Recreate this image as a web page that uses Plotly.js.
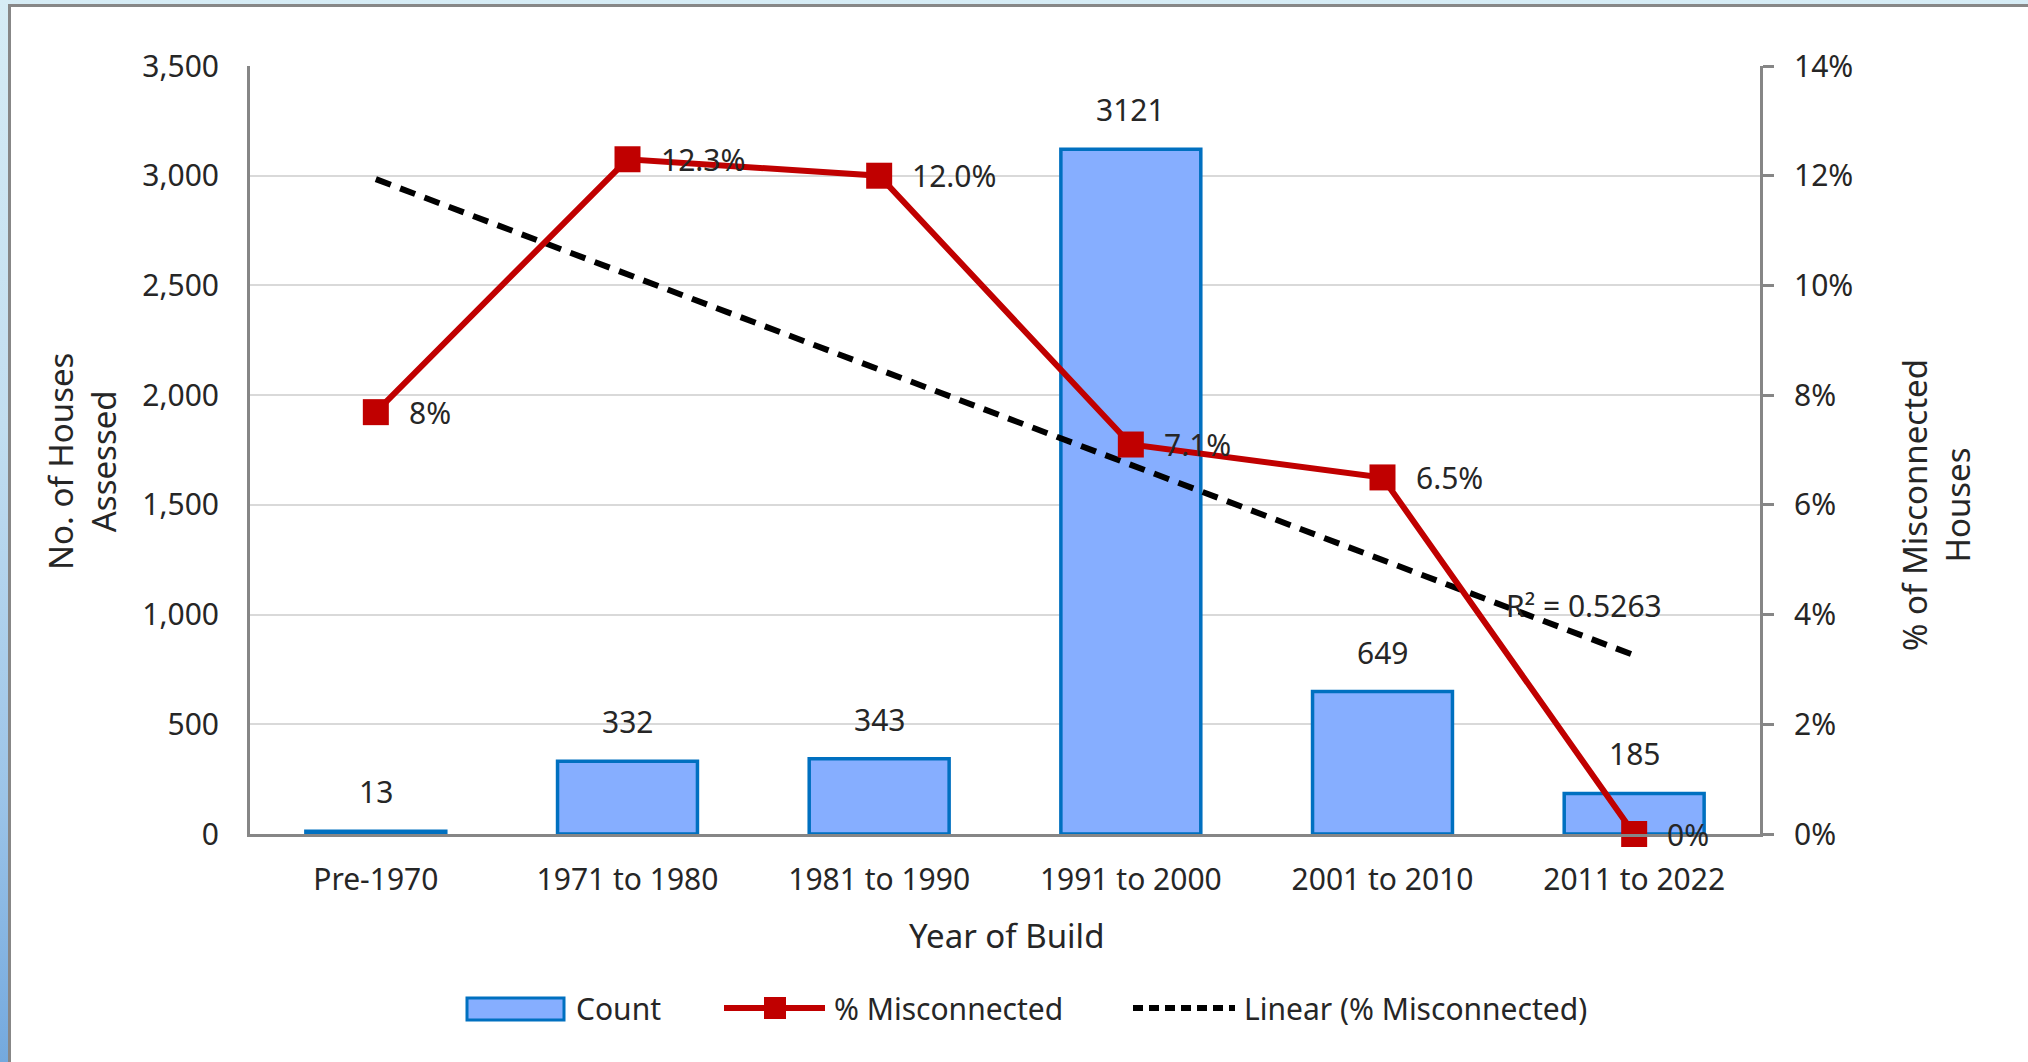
<!DOCTYPE html>
<html>
<head>
<meta charset="utf-8">
<script src="https://cdn.plot.ly/plotly-3.0.1.min.js"></script>
<style>
  html, body { margin: 0; padding: 0; width: 2028px; height: 1062px; overflow: hidden;
    background: linear-gradient(to bottom, #d6ecf5 0%, #c2def0 40%, #9cc4e8 75%, #74a9de 100%); }
  #frame { position: absolute; left: 8px; top: 4px; width: 2020px; height: 1058px;
    background: #ffffff; border-left: 3px solid #878787; border-top: 3px solid #878787; box-sizing: border-box; }
  #chart { position: absolute; left: 0; top: 0; width: 2028px; height: 1062px; }
</style>
</head>
<body>
<div id="frame"></div>
<div id="chart"></div>
<script>
// ---- data ----
const categories = ["Pre-1970", "1971 to 1980", "1981 to 1990", "1991 to 2000", "2001 to 2010", "2011 to 2022"];
const counts = [13, 332, 343, 3121, 649, 185];
const pctMisconnected = [0.0769, 0.123, 0.120, 0.071, 0.065, 0.0];
const pctLabels = ["8%", "12.3%", "12.0%", "7.1%", "6.5%", "0%"];
const countLabels = ["13", "332", "343", "3121", "649", "185"];
const r2Label = "R\u00b2 = 0.5263";

// ---- linear trendline (least squares on category index) ----
const n = pctMisconnected.length;
const xs = pctMisconnected.map((_, i) => i + 1);
const mx = xs.reduce((a, b) => a + b, 0) / n;
const my = pctMisconnected.reduce((a, b) => a + b, 0) / n;
let sxy = 0, sxx = 0;
for (let i = 0; i < n; i++) { sxy += (xs[i] - mx) * (pctMisconnected[i] - my); sxx += (xs[i] - mx) ** 2; }
const slope = sxy / sxx, icpt = my - slope * mx;
const trend = xs.map(x => icpt + slope * x);

// ---- layout geometry (pixels) ----
const W = 2028, H = 1062;
const L = 250, R = 1760, T = 66, B = 834;
const PW = R - L, PH = B - T;
const px = x => (x - L) / PW;
const py = y => (B - y) / PH;

const FONT = "Noto Sans, Open Sans, sans-serif";
const TXT = "#262626";
const AX = "#868686";

const traces = [
  { type: "bar", x: categories, y: counts, name: "Count",
    marker: { color: "#86AEFF", line: { color: "#0070C0", width: 3.5 } },
    hoverinfo: "skip", showlegend: false },
  { type: "scatter", mode: "lines", x: categories, y: trend, yaxis: "y2",
    name: "Linear (% Misconnected)",
    line: { color: "#000000", width: 6, dash: "16px,10px" },
    hoverinfo: "skip", showlegend: false },
  { type: "scatter", mode: "lines+markers", x: categories, y: pctMisconnected, yaxis: "y2",
    name: "% Misconnected", cliponaxis: false,
    line: { color: "#C00000", width: 6 },
    marker: { symbol: "square", size: 26, color: "#C00000" },
    hoverinfo: "skip", showlegend: false }
];

const annotations = [];
categories.forEach((c, i) => {
  annotations.push({ x: c, y: counts[i], xref: "x", yref: "y", text: countLabels[i],
    showarrow: false, xanchor: "center", yanchor: "bottom", yshift: 17, font: { family: FONT, size: 30, color: TXT } });
  annotations.push({ x: c, y: pctMisconnected[i], xref: "x", yref: "y2", text: pctLabels[i],
    showarrow: false, xanchor: "left", xshift: 31, yanchor: "middle", font: { family: FONT, size: 30, color: TXT } });
});
annotations.push({ x: px(1504), y: py(605), xref: "paper", yref: "paper", text: r2Label, showarrow: false,
  xanchor: "left", yanchor: "middle", font: { family: FONT, size: 30, color: TXT } });
// axis titles
annotations.push({ x: px(82), y: py(462), xref: "paper", yref: "paper", text: "No. of Houses<br>Assessed",
  textangle: -90, showarrow: false, xanchor: "center", yanchor: "middle",
  font: { family: FONT, size: 33, color: TXT } });
annotations.push({ x: px(1936), y: py(505), xref: "paper", yref: "paper", text: "% of Misconnected<br>Houses",
  textangle: -90, showarrow: false, xanchor: "center", yanchor: "middle",
  font: { family: FONT, size: 33, color: TXT } });
annotations.push({ x: px(1006), y: py(935), xref: "paper", yref: "paper", text: "Year of Build",
  showarrow: false, xanchor: "center", yanchor: "middle", font: { family: FONT, size: 33, color: TXT } });
// legend texts
const legY = py(1008);
[["Count", 574], ["% Misconnected", 832], ["Linear (% Misconnected)", 1242]].forEach(([t, x]) => {
  annotations.push({ x: px(x), y: legY, xref: "paper", yref: "paper", text: t, showarrow: false,
    xanchor: "left", yanchor: "middle", font: { family: FONT, size: 30, color: TXT } });
});

const shapes = [
  { type: "rect", xref: "paper", yref: "paper", x0: px(467), x1: px(564), y0: py(1020), y1: py(998),
    fillcolor: "#86AEFF", line: { color: "#0070C0", width: 3 } },
  { type: "line", xref: "paper", yref: "paper", x0: px(724), x1: px(825), y0: legY, y1: legY,
    line: { color: "#C00000", width: 6 } },
  { type: "rect", xref: "paper", yref: "paper", x0: px(764), x1: px(786), y0: py(1019), y1: py(997),
    fillcolor: "#C00000", line: { width: 0 } },
  { type: "line", xref: "paper", yref: "paper", x0: px(1133), x1: px(1235), y0: legY, y1: legY,
    line: { color: "#000000", width: 6, dash: "10px,6px" } }
];

const layout = {
  width: W, height: H,
  margin: { l: L, r: W - R, t: T, b: H - B, pad: 0 },
  paper_bgcolor: "rgba(0,0,0,0)", plot_bgcolor: "rgba(0,0,0,0)",
  font: { family: FONT, size: 30, color: TXT },
  showlegend: false,
  bargap: 0.444,
  xaxis: { type: "category", range: [-0.5, 5.5], showline: true, linecolor: AX, linewidth: 3,
    ticks: "", showgrid: false, zeroline: false, ticklabelstandoff: 17,
    tickfont: { family: FONT, size: 30, color: TXT }, fixedrange: true },
  yaxis: { range: [0, 3500], dtick: 500, tickformat: ",", showline: true, linecolor: AX, linewidth: 3,
    showgrid: true, gridcolor: "#D9D9D9", gridwidth: 2, zeroline: false, ticks: "",
    ticklabelstandoff: 22, tickfont: { family: FONT, size: 30, color: TXT }, fixedrange: true },
  yaxis2: { overlaying: "y", side: "right", range: [0, 0.14], dtick: 0.02, tickformat: ".0%",
    showline: true, linecolor: AX, linewidth: 3, showgrid: false, zeroline: false,
    ticks: "outside", ticklen: 11, tickwidth: 3, tickcolor: AX, ticklabelstandoff: 14,
    tickfont: { family: FONT, size: 30, color: TXT }, fixedrange: true },
  annotations: annotations,
  shapes: shapes
};

Plotly.newPlot("chart", traces, layout, { staticPlot: true, displayModeBar: false });
</script>
</body>
</html>
